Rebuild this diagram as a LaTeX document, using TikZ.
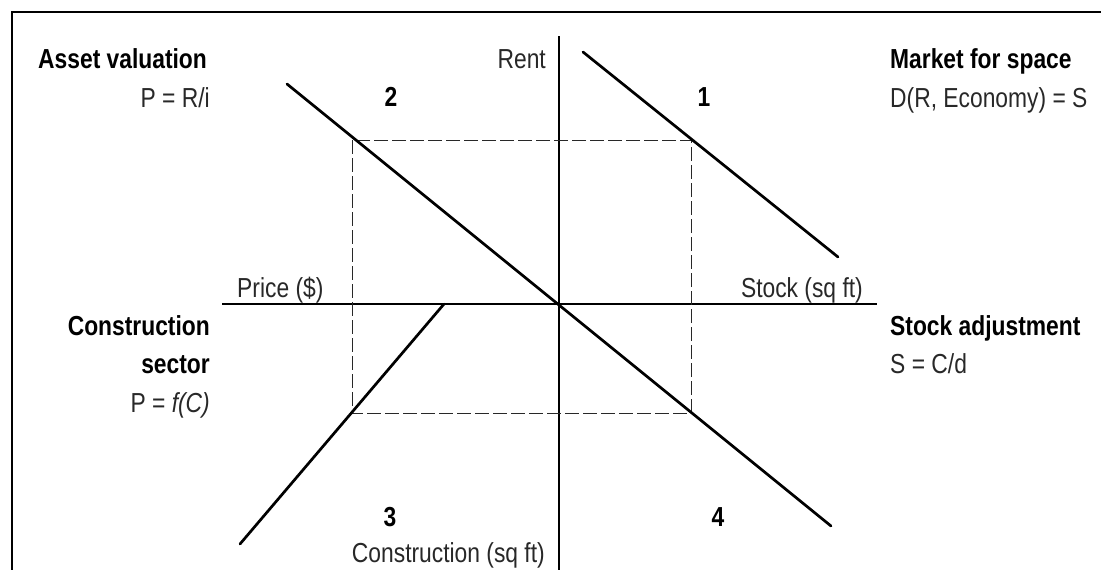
\documentclass[tikz,border=0pt]{standalone}
\usepackage{fontspec}
\setmainfont[FakeStretch=0.83]{Liberation Sans}
\usepackage{xcolor}
\usepackage{tikz}
\usetikzlibrary{positioning,calc}
\definecolor{inkgray}{RGB}{40, 40, 40}
\definecolor{guidegray}{RGB}{40, 40, 40}

\tikzset{
  axisline/.style={line width=1.3pt, black},
  schedule/.style={line width=2.7pt, black, line cap=round},
  guideline/.style={line width=1pt, guidegray, dash pattern=on 14pt off 4pt},
  heading/.style={inner sep=0pt, font=\fontsize{27.5}{38}\selectfont\bfseries},
  formula/.style={inner sep=0pt, inkgray, font=\fontsize{27.5}{38}\selectfont},
  quadrant/.style={inner sep=0pt, anchor=base, font=\fontsize{27.5}{38}\selectfont\bfseries}
}

\begin{document}
\begin{tikzpicture}[x=1pt,y=-1pt]
    \useasboundingbox (0,0) rectangle (1101,570);
    % frame (cut at right and bottom)
    \draw[line width=2pt] (12,570) -- (12,12) -- (1101,12);

    % axes
    \coordinate (O) at (559,304);
    \coordinate (rentTop) at (559,36);
    \coordinate (constrBot) at (559,570);
    \coordinate (priceEnd) at (222,304);
    \coordinate (stockEnd) at (877,304);
    \draw[axisline] (rentTop) -- (constrBot);
    \draw[axisline] (priceEnd) -- (stockEnd);

    \node[formula, anchor=base east] (rent) at (546,68) {Rent};
    \node[formula, anchor=base west] (price) at (237,297) {Price (\$)};
    \node[formula, anchor=base east] (stock) at (863,297) {Stock (sq ft)};
    \node[formula, anchor=base east] (constr) at (545,562) {Construction (sq ft)};

    % dashed four-quadrant loop
    \coordinate (loopA) at (352,140);
    \coordinate (loopB) at (691,413);
    \draw[guideline] (loopA) rectangle (loopB);

    % schedules
    \coordinate (valTop) at (287,84);
    \coordinate (adjBot) at (831,526);
    \coordinate (mktTop) at (583,52);
    \coordinate (mktBot) at (838,257);
    \coordinate (conBot) at (240,544);
    \coordinate (conTop) at (444,304);
    \draw[schedule] (valTop) -- (adjBot);
    \draw[schedule] (mktTop) -- (mktBot);
    \draw[schedule] (conBot) -- (conTop);

    % quadrant numbers
    \node[quadrant] (q1) at (704,106) {1};
    \node[quadrant] (q2) at (391,106) {2};
    \node[quadrant] (q3) at (390,526) {3};
    \node[quadrant] (q4) at (718,526) {4};

    % quadrant titles
    \node[heading, anchor=base west] (valT) at (38,68) {Asset valuation};
    \node[formula, anchor=base east] (valF) at (210,107) {P = R/i};
    \node[heading, anchor=base west] (mktT) at (890,68) {Market for space};
    \node[formula, anchor=base west] (mktF) at (890,107) {D(R, Economy) = S};
    \node[heading, anchor=base east] (conT) at (210,335) {Construction};
    \node[heading, anchor=base east] (conT2) at (210,373) {sector};
    \node[formula, anchor=base east] (conF) at (210,412) {P = \textit{f(C)}};
    \node[heading, anchor=base west] (adjT) at (890,335) {Stock adjustment};
    \node[formula, anchor=base west] (adjF) at (890,373) {S = C/d};
\end{tikzpicture}
\end{document}
